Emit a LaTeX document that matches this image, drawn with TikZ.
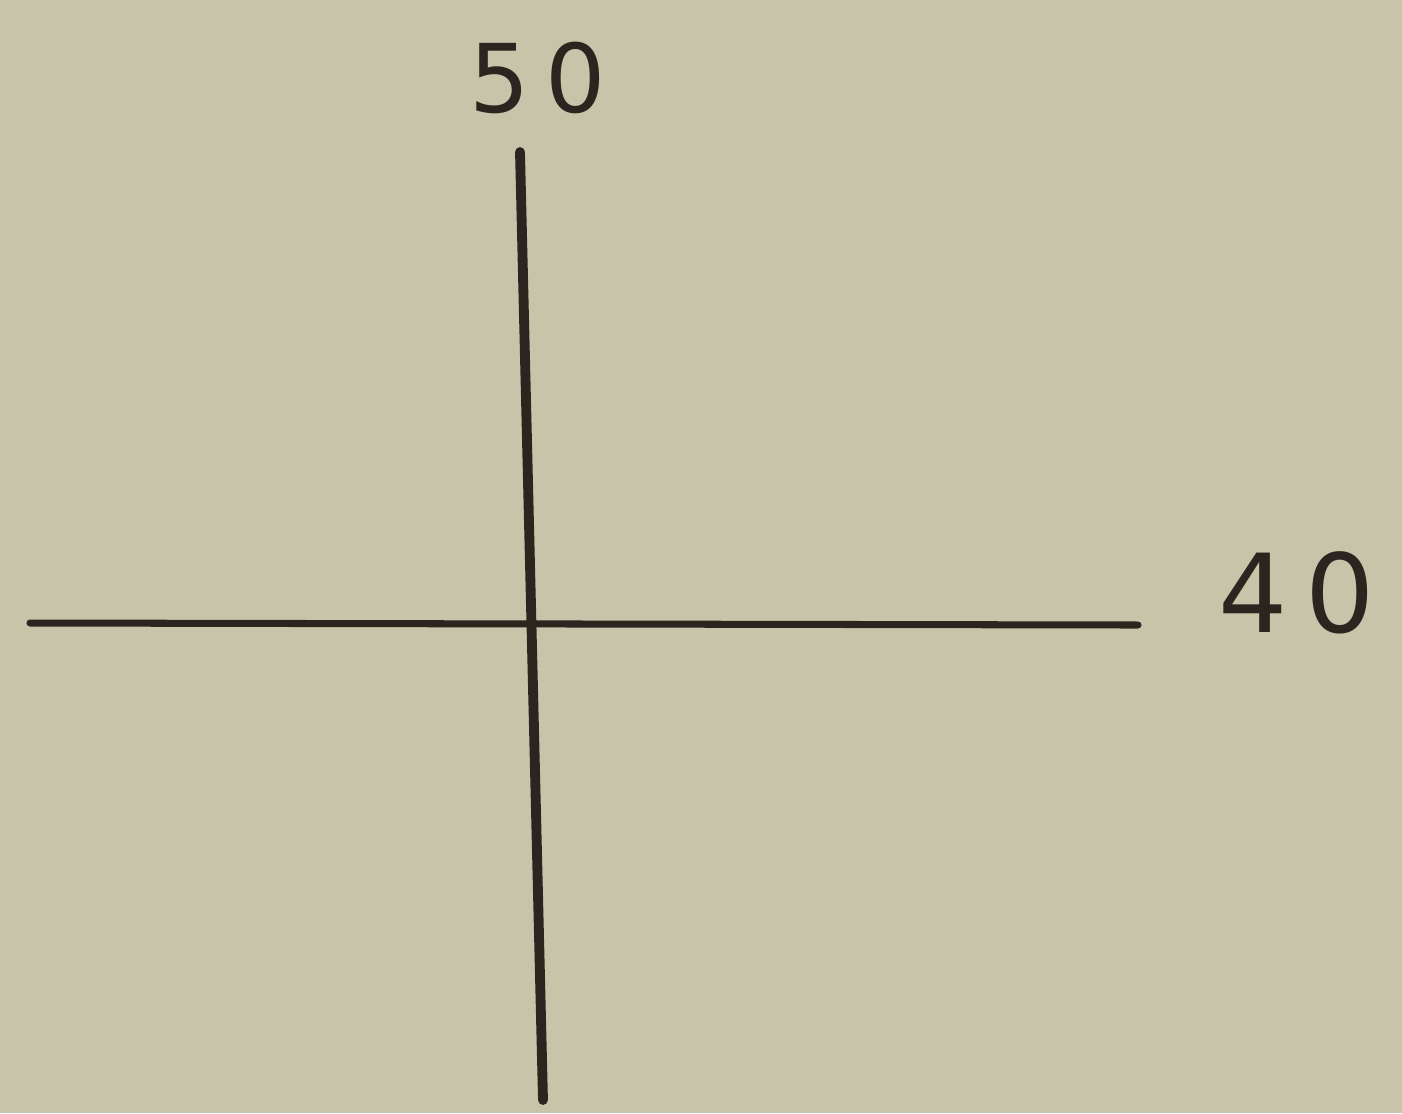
\documentclass[tikz,border=0pt]{standalone}
\usepackage{fontspec}
\setmainfont{DejaVu Sans}
\definecolor{paper}{HTML}{C7C4AA}
\definecolor{ink}{HTML}{2B2520}
\begin{document}
\begin{tikzpicture}[
  axisline/.style={draw=ink, line cap=round},
  numlabel/.style={font=\fontsize{27}{30}\selectfont, text=ink, inner sep=0pt},
]

% Paper
\fill[paper] (0, 0) rectangle (14.02, -11.13);
\useasboundingbox (0, 0) rectangle (14.02, -11.13);

% Axis ends
\coordinate (top)    at (5.20, -1.52);
\coordinate (bottom) at (5.43, -11.00);
\coordinate (left)   at (0.30, -6.23);
\coordinate (right)  at (11.38, -6.25);

% Axes
\draw[axisline, line width=2.8pt] (top) -- (bottom);
\draw[axisline, line width=2.0pt] (left) -- (right);

% Labels
\node[numlabel] (vlabel) at (5.38, -0.78) {5\,0};
\node[numlabel, font=\fontsize{31}{34}\selectfont] (hlabel) at (12.97, -5.93) {4\,0};

\end{tikzpicture}
\end{document}
